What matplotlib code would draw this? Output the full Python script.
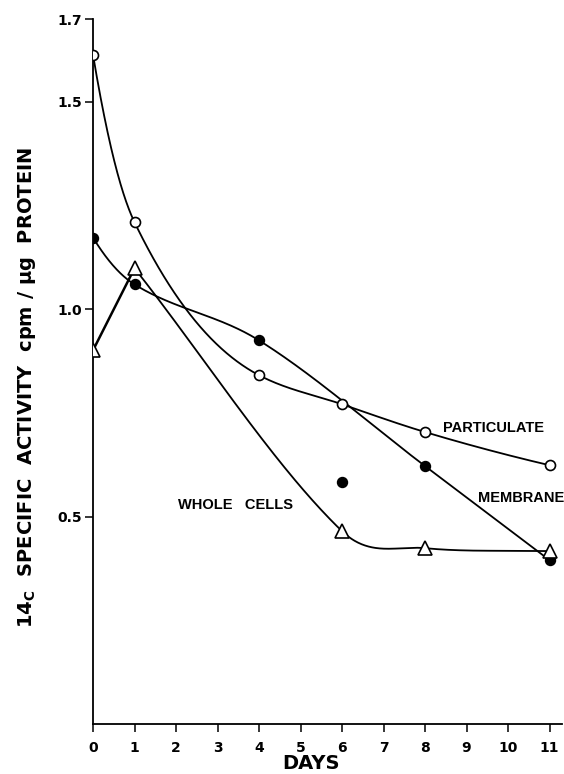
import matplotlib
matplotlib.use("Agg")
import matplotlib.pyplot as plt
import numpy as np

plt.rcParams["font.family"] = ["Liberation Sans", "DejaVu Sans"]
plt.rcParams["font.weight"] = "bold"
plt.rcParams["mathtext.fontset"] = "custom"
plt.rcParams["mathtext.rm"] = "DejaVu Sans:bold"

# values (14C specific activity, cpm / ug protein)
part_days = [0, 1, 4, 6, 8, 11]
part_vals = [1.614, 1.21, 0.841, 0.771, 0.704, 0.624]

mem_days = [0, 1, 4, 6, 8, 11]
mem_vals = [1.173, 1.06, 0.925, 0.583, 0.622, 0.395]
mem_on_curve = [True, True, True, False, True, True]   # day 6 point is off the drawn line

wc_days = [0, 1, 6, 8, 11]
wc_vals = [0.901, 1.099, 0.465, 0.424, 0.417]

x_ticks = list(range(12))
y_ticks = [0.5, 1.0, 1.5, 1.7]
y_ticklabels = ["0.5", "1.0", "1.5", "1.7"]


def smooth(x, y, harmonic=False, parabolic_ends=True, n=120):
    # cubic hermite through the points, like a french curve
    x = np.asarray(x, float)
    y = np.asarray(y, float)
    h = np.diff(x)
    d = np.diff(y) / h
    m = np.empty_like(y)
    if harmonic:
        w1 = 2 * h[1:] + h[:-1]
        w2 = h[1:] + 2 * h[:-1]
        m[1:-1] = (w1 + w2) / (w1 / d[:-1] + w2 / d[1:])
    else:
        m[1:-1] = (y[2:] - y[:-2]) / (x[2:] - x[:-2])
    if parabolic_ends:
        m[0] = 2 * d[0] - m[1]
        m[-1] = 2 * d[-1] - m[-2]
        if np.sign(m[0]) != np.sign(d[0]):
            m[0] = 0
        if np.sign(m[-1]) != np.sign(d[-1]):
            m[-1] = 0
    else:
        m[0] = d[0]
        m[-1] = d[-1]
    t = np.linspace(0, 1, n)
    h00 = 2 * t**3 - 3 * t**2 + 1
    h10 = t**3 - 2 * t**2 + t
    h01 = -2 * t**3 + 3 * t**2
    h11 = t**3 - t**2
    xs, ys = [], []
    for i in range(len(x) - 1):
        xs.append(x[i] + t * h[i])
        ys.append(h00 * y[i] + h10 * h[i] * m[i] + h01 * y[i + 1] + h11 * h[i] * m[i + 1])
    return np.concatenate(xs), np.concatenate(ys)


fig = plt.figure(figsize=(5.64, 7.74), dpi=100)
ax = fig.add_axes([93 / 564, 50 / 774, 469 / 564, 705 / 774])

lw = 1.3
# particulate
cx, cy = smooth(part_days, part_vals, harmonic=True)
ax.plot(cx, cy, color="black", lw=lw, zorder=2)
ax.plot(part_days, part_vals, "o", ms=7.2, mfc="white", mec="black", mew=1.2, zorder=4)

# membrane
md = [d for d, k in zip(mem_days, mem_on_curve) if k]
mv = [v for v, k in zip(mem_vals, mem_on_curve) if k]
cx, cy = smooth(md, mv)
ax.plot(cx, cy, color="black", lw=lw, zorder=2)
ax.plot(mem_days, mem_vals, "o", ms=7.2, mfc="black", mec="black", zorder=4)

# whole cells: straight rise to day 1, then a smooth fall
ax.plot(wc_days[:2], wc_vals[:2], color="black", lw=1.8, zorder=2)
cx, cy = smooth(wc_days[1:], wc_vals[1:], parabolic_ends=False)
ax.plot(cx, cy, color="black", lw=lw, zorder=2)
ax.plot(wc_days, wc_vals, "^", ms=9.5, mfc="white", mec="black", mew=1.2, zorder=5)

ax.text(8.43, 0.713, "PARTICULATE", fontsize=10.5, fontweight="bold", va="center", ha="left")
ax.text(9.28, 0.545, "MEMBRANE", fontsize=10.5, fontweight="bold", va="center", ha="left")
ax.text(2.05, 0.528, "WHOLE   CELLS", fontsize=10.5, fontweight="bold", va="center", ha="left")

ax.set_xlim(0, 11.3)
ax.set_ylim(0, 1.7)
ax.set_xticks(x_ticks)
ax.set_xticklabels([str(d) for d in x_ticks], fontsize=10, fontweight="bold", family="DejaVu Sans")
ax.set_yticks(y_ticks)
ax.set_yticklabels(y_ticklabels, fontsize=10, fontweight="bold", family="DejaVu Sans")
ax.tick_params(axis="x", direction="out", length=6, width=1.1, pad=6)
ax.tick_params(axis="y", direction="out", length=6, width=1.1, pad=2)
for s in ["top", "right"]:
    ax.spines[s].set_visible(False)
for s in ["left", "bottom"]:
    ax.spines[s].set_linewidth(1.3)

ax.set_xlabel("DAYS", fontsize=14, fontweight="bold", family="DejaVu Sans")
ax.xaxis.set_label_coords(5.25 / 11.3, -0.043)
ax.set_ylabel(r"14$_{\rm C}$  SPECIFIC  ACTIVITY  cpm / μg  PROTEIN",
              fontsize=14, fontweight="bold", family="DejaVu Sans")
ax.yaxis.set_label_coords(-0.117, 0.477)

fig.savefig("out.png", dpi=100)
